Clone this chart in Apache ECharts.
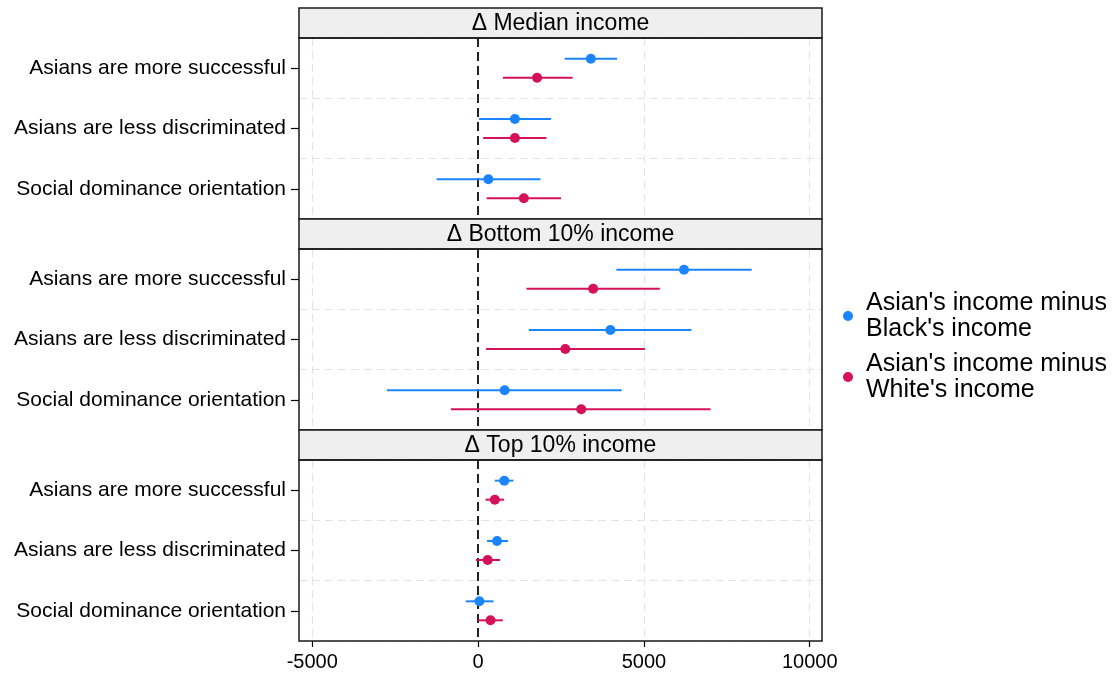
<!DOCTYPE html>
<html>
<head>
<meta charset="utf-8">
<script src="https://cdn.jsdelivr.net/npm/echarts@6/dist/echarts.min.js"></script>
<style>
  html, body { margin: 0; padding: 0; background: #fff; }
  #chart { width: 1112px; height: 673px; }
</style>
</head>
<body>
<div id="chart"></div>
<script>
// data
var categories = ['Asians are more successful', 'Asians are less discriminated', 'Social dominance orientation'];
var panelTitles = ['Δ Median income', 'Δ Bottom 10% income', 'Δ Top 10% income'];
var seriesNames = ["Asian's income minus\nBlack's income", "Asian's income minus\nWhite's income"];
var xTicks = [-5000, 0, 5000, 10000];

// one row per panel, one value per category
var blackEst = [[3400, 1110, 310], [6210, 3990, 800], [790, 570, 40]];
var blackLo  = [[2610, 30, -1250], [4170, 1530, -2750], [505, 270, -370]];
var blackHi  = [[4190, 2200, 1880], [8250, 6430, 4330], [1065, 900, 465]];
var whiteEst = [[1780, 1110, 1380], [3470, 2630, 3110], [505, 290, 375]];
var whiteLo  = [[750, 155, 260], [1460, 240, -820], [225, -65, 0]];
var whiteHi  = [[2850, 2060, 2500], [5480, 5030, 7010], [785, 660, 745]];

var colors = ['#1a85ff', '#d41159'];
var font = 'Liberation Sans, Arial, Helvetica, sans-serif';

var gridLeft = 299, gridRight = 290;
var gridTops = [38, 249, 460], gridH = 181, headH = 30;
var off = 9.5; // vertical shift of the two groups inside a category

var chart = echarts.init(document.getElementById('chart'), null, {renderer: 'canvas'});

function barRender(dy) {
  return function (params, api) {
    var a = api.coord([api.value(0), api.value(2)]);
    var b = api.coord([api.value(1), api.value(2)]);
    return {
      type: 'line',
      shape: {x1: a[0], y1: a[1] + dy, x2: b[0], y2: b[1] + dy},
      style: {stroke: api.visual('color'), lineWidth: 2}
    };
  };
}

var grids = [], xAxes = [], yAxes = [], series = [], graphics = [];

for (var p = 0; p < 3; p++) {
  grids.push({left: gridLeft, right: gridRight, top: gridTops[p], height: gridH, show: false});
  var last = p === 2;
  xAxes.push({
    type: 'value', gridIndex: p, min: -5400, max: 10370,
    axisLine: {show: false, onZero: false},
    splitLine: {show: false},
    axisTick: {show: last, length: 6, customValues: xTicks, lineStyle: {color: '#000', width: 1.2}},
    axisLabel: {show: last, customValues: xTicks, margin: 11, fontSize: 20, color: '#000', fontFamily: font,
      formatter: function (v) { return String(v); }}
  });
  yAxes.push({
    type: 'category', gridIndex: p, data: categories, inverse: true,
    axisLine: {show: false, onZero: false},
    axisTick: {show: true, alignWithLabel: true, length: 8, lineStyle: {color: '#000', width: 1.2}},
    axisLabel: {fontSize: 21, color: '#000', fontFamily: font, margin: 13},
    splitLine: {show: true, lineStyle: {color: '#e4e4e4', type: [8, 5], width: 1.2}}
  });

  var gridMarks = xTicks.map(function (v) {
    return {
      xAxis: v,
      lineStyle: v === 0
        ? {color: '#222', type: [9, 5], width: 2}
        : {color: '#e4e4e4', type: [8, 5], width: 1.2}
    };
  });

  var bData = [], wData = [], bBar = [], wBar = [];
  for (var c = 0; c < categories.length; c++) {
    bData.push([blackEst[p][c], c]);
    wData.push([whiteEst[p][c], c]);
    bBar.push([blackLo[p][c], blackHi[p][c], c]);
    wBar.push([whiteLo[p][c], whiteHi[p][c], c]);
  }

  series.push({
    name: seriesNames[0], type: 'scatter', xAxisIndex: p, yAxisIndex: p,
    data: bData, symbol: 'circle', symbolSize: 10, symbolOffset: [0, -off],
    itemStyle: {color: colors[0], opacity: 1}, z: 5, silent: true,
    markLine: {silent: true, symbol: ['none', 'none'], label: {show: false}, data: gridMarks, z: 1, animation: false}
  });
  series.push({
    name: seriesNames[1], type: 'scatter', xAxisIndex: p, yAxisIndex: p,
    data: wData, symbol: 'circle', symbolSize: 10, symbolOffset: [0, off],
    itemStyle: {color: colors[1], opacity: 1}, z: 5, silent: true
  });
  series.push({
    name: 'ci-black-' + p, type: 'custom', xAxisIndex: p, yAxisIndex: p,
    renderItem: barRender(-off), data: bBar, encode: {x: [0, 1], y: 2},
    itemStyle: {color: colors[0]}, z: 4, silent: true
  });
  series.push({
    name: 'ci-white-' + p, type: 'custom', xAxisIndex: p, yAxisIndex: p,
    renderItem: barRender(off), data: wBar, encode: {x: [0, 1], y: 2},
    itemStyle: {color: colors[1]}, z: 4, silent: true
  });

  // header strip and frame
  var w = 1112 - gridLeft - gridRight;
  graphics.push({
    type: 'rect', z: 20,
    shape: {x: gridLeft, y: gridTops[p] - headH, width: w, height: headH},
    style: {fill: '#efefef', stroke: '#1a1a1a', lineWidth: 1.5}
  });
  graphics.push({
    type: 'text', z: 21,
    x: gridLeft + w / 2, y: gridTops[p] - headH / 2 + 1,
    style: {text: panelTitles[p], fill: '#000', font: '23px ' + font, align: 'center', verticalAlign: 'middle'}
  });
  graphics.push({
    type: 'rect', z: 20,
    shape: {x: gridLeft, y: gridTops[p], width: w, height: gridH},
    style: {fill: 'none', stroke: '#1a1a1a', lineWidth: 1.5}
  });
}

var option = {
  backgroundColor: '#fff',
  animation: false,
  grid: grids,
  xAxis: xAxes,
  yAxis: yAxes,
  legend: {
    data: seriesNames.map(function (n) { return {name: n, icon: 'circle'}; }),
    orient: 'vertical', left: 838, top: 285, itemWidth: 10, itemHeight: 10, itemGap: 9,
    selectedMode: false,
    textStyle: {fontSize: 25, lineHeight: 26, color: '#000', fontFamily: font, padding: [0, 0, 0, 8]}
  },
  series: series,
  graphic: graphics
};

chart.setOption(option);
</script>
</body>
</html>
